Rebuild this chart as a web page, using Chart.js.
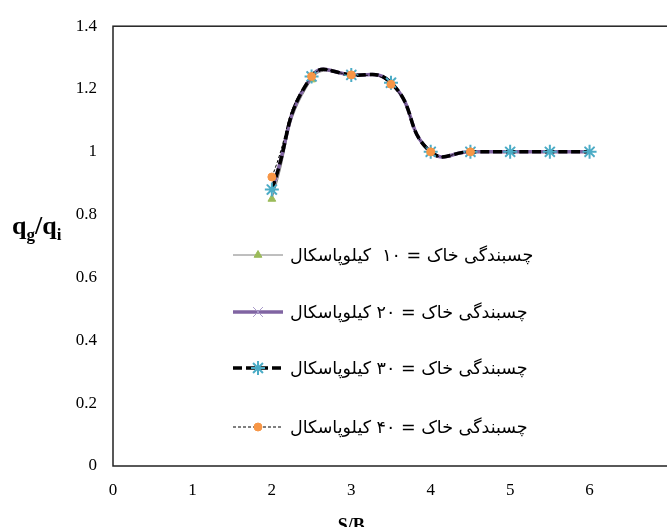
<!DOCTYPE html>
<html>
<head>
<meta charset="utf-8">
<script src="https://cdn.jsdelivr.net/npm/chart.js@4.4.1/dist/chart.umd.min.js"></script>
<style>
  html, body { margin: 0; padding: 0; overflow: hidden; background: #fff; }
  #wrap { position: relative; width: 690px; height: 527px; }
</style>
</head>
<body>
<div id="wrap"><canvas id="chart"></canvas></div>
<script>
// S/B values where the series were measured
const sbValues = [2, 2.5, 3, 3.5, 4, 4.5, 5, 5.5, 6];

// q_g/q_i for each soil cohesion
const q10 = [0.85, 1.23, 1.245, 1.22, 1.0, 1.0];
const q20 = [0.88, 1.24, 1.245, 1.22, 1.0, 1.0, 1.0, 1.0, 1.0];
const q30 = [0.88, 1.24, 1.245, 1.22, 1.0, 1.0, 1.0, 1.0, 1.0];
const q40 = [0.92, 1.24, 1.245, 1.215, 1.0, 1.0];

const seriesLabels = [
  'چسبندگی خاک = ۱۰  کیلوپاسکال',
  'چسبندگی خاک = ۲۰ کیلوپاسکال',
  'چسبندگی خاک = ۳۰ کیلوپاسکال',
  'چسبندگی خاک = ۴۰ کیلوپاسکال'
];

const xTicks = [0, 1, 2, 3, 4, 5, 6];

function toPoints(ys) {
  return ys.map((y, i) => ({ x: sbValues[i], y: y }));
}

const SERIF = '"Liberation Serif", "Times New Roman", serif';

// frame: top line + left/bottom axes (right edge falls off the picture)
const framePlugin = {
  id: 'frame',
  beforeDatasetsDraw(chart) {
    const { ctx, chartArea: a } = chart;
    ctx.save();
    ctx.strokeStyle = '#222';
    ctx.lineWidth = 1.5;
    ctx.strokeRect(a.left, a.top, a.right - a.left, a.bottom - a.top);
    ctx.restore();
  }
};

// axis titles (y title needs subscripts)
const titlesPlugin = {
  id: 'titles',
  afterDraw(chart) {
    const ctx = chart.ctx;
    const xs = chart.scales.x;
    ctx.save();
    ctx.fillStyle = '#000';
    ctx.textBaseline = 'alphabetic';
    ctx.textAlign = 'center';
    ctx.font = 'bold 18px ' + SERIF;
    ctx.fillText('S/B', xs.getPixelForValue(3), 531);

    // q_g/q_i
    ctx.textAlign = 'left';
    let x = 12;
    const base = 234;
    const parts = [['q', 26, 0], ['g', 17, 6], ['/', 26, 0], ['q', 26, 0], ['i', 17, 6]];
    parts.forEach(p => {
      ctx.font = 'bold ' + p[1] + 'px ' + SERIF;
      ctx.fillText(p[0], x, base + p[2]);
      x += ctx.measureText(p[0]).width;
    });
    ctx.restore();
  }
};

// legend drawn inside the plot, line sample on the left of the Persian text
const legendPlugin = {
  id: 'insideLegend',
  afterDraw(chart) {
    const ctx = chart.ctx;
    const rows = [255, 312, 368, 427];
    const x0 = 233, x1 = 283;
    chart.data.datasets.forEach((ds, i) => {
      const y = rows[i];
      ctx.save();
      ctx.strokeStyle = ds.borderColor;
      ctx.lineWidth = ds.borderWidth;
      ctx.setLineDash(ds.borderDash || []);
      ctx.beginPath();
      ctx.moveTo(x0, y);
      ctx.lineTo(x1, y);
      ctx.stroke();
      ctx.setLineDash([]);
      ctx.fillStyle = ds.pointBackgroundColor;
      ctx.strokeStyle = ds.pointBorderColor;
      ctx.lineWidth = ds.pointBorderWidth;
      Chart.helpers.drawPoint(ctx, {
        pointStyle: ds.pointStyle,
        radius: ds.pointRadius,
        borderWidth: ds.pointBorderWidth,
        rotation: 0
      }, (x0 + x1) / 2, y);

      ctx.fillStyle = '#000';
      ctx.font = '17.5px "DejaVu Sans", sans-serif';
      ctx.direction = 'rtl';
      ctx.textAlign = 'left';
      ctx.textBaseline = 'middle';
      ctx.fillText(seriesLabels[i], 290, y + 1);
      ctx.restore();
    });
  }
};

const datasets = [
  {
    label: seriesLabels[0],
    data: toPoints(q10),
    borderColor: '#7f7f7f',
    borderWidth: 1,
    pointStyle: 'triangle',
    pointRadius: 4.5,
    pointBackgroundColor: '#9bbb59',
    pointBorderColor: '#9bbb59',
    pointBorderWidth: 1,
    order: 4
  },
  {
    label: seriesLabels[1],
    data: toPoints(q20),
    borderColor: '#8064a2',
    borderWidth: 3.5,
    pointStyle: 'crossRot',
    pointRadius: 7,
    pointBackgroundColor: '#a899c9',
    pointBorderColor: '#a899c9',
    pointBorderWidth: 1,
    order: 3
  },
  {
    label: seriesLabels[2],
    data: toPoints(q30),
    borderColor: '#000000',
    borderWidth: 3.5,
    borderDash: [9, 4],
    pointStyle: 'star',
    pointRadius: 7,
    pointBackgroundColor: '#4bacc6',
    pointBorderColor: '#4bacc6',
    pointBorderWidth: 2,
    order: 2
  },
  {
    label: seriesLabels[3],
    data: toPoints(q40),
    borderColor: '#000000',
    borderWidth: 1,
    borderDash: [3, 2],
    pointStyle: 'circle',
    pointRadius: 4,
    pointBackgroundColor: '#f79646',
    pointBorderColor: '#f79646',
    pointBorderWidth: 1,
    order: 1
  }
];

new Chart(document.getElementById('chart'), {
  type: 'line',
  data: { datasets: datasets },
  options: {
    responsive: true,
    maintainAspectRatio: false,
    animation: false,
    layout: { padding: { left: 0, top: 16, right: 21, bottom: 0 } },
    elements: { line: { tension: 0.5, fill: false } },
    plugins: {
      legend: { display: false },
      tooltip: { enabled: false }
    },
    scales: {
      x: {
        type: 'linear',
        min: 0,
        max: 7,
        afterFit: s => { s.height = 61; },
        afterBuildTicks: s => { s.ticks = xTicks.map(v => ({ value: v })); },
        grid: { display: false, drawTicks: false },
        border: { display: false },
        ticks: {
          padding: 14,
          color: '#000',
          font: { family: SERIF, size: 17 }
        }
      },
      y: {
        min: 0,
        max: 1.4,
        afterFit: s => { s.width = 113; },
        grid: { display: false, drawTicks: false },
        border: { display: false },
        ticks: {
          stepSize: 0.2,
          padding: 16,
          color: '#000',
          font: { family: SERIF, size: 17 },
          callback: v => String(Number(v.toFixed(1)))
        }
      }
    }
  },
  plugins: [framePlugin, titlesPlugin, legendPlugin]
});
</script>
</body>
</html>
